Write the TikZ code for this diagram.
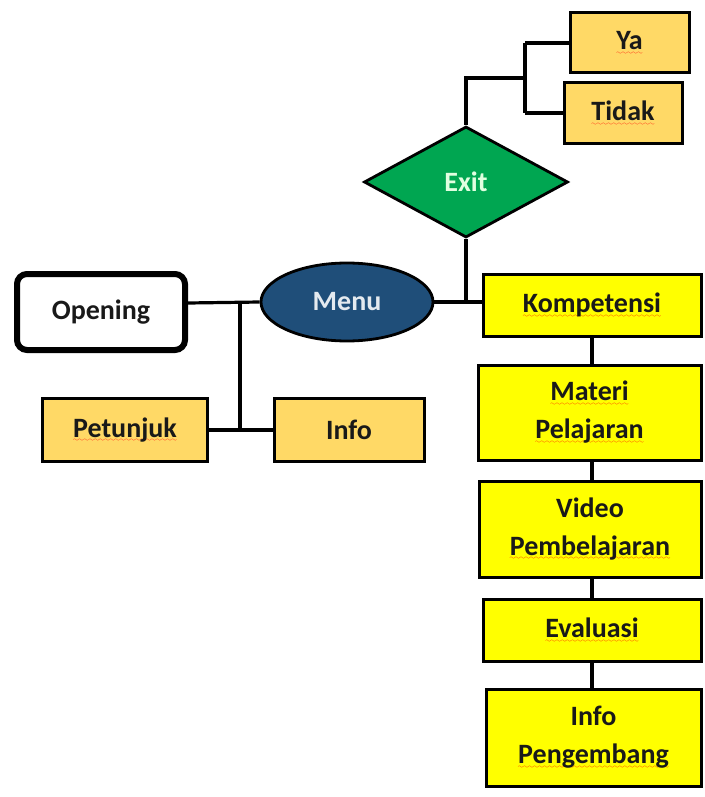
\documentclass[tikz,border=0pt]{standalone}
\usepackage{fontspec}
\setmainfont{Carlito}
\usetikzlibrary{shapes.geometric}

\definecolor{oranye}{RGB}{255,217,102}
\definecolor{kuning}{RGB}{255,255,0}
\definecolor{hijau}{RGB}{0,166,81}
\definecolor{biru}{RGB}{31,78,121}
\definecolor{teks}{RGB}{25,25,25}

\font\gelombang=lasy6
\newcommand{\salah}[1]{\setbox0\hbox{#1}\rlap{\lower4.5pt\hbox to\wd0{\color{red}\xleaders\hbox{\gelombang\char58}\hfill}}\box0}

\begin{document}
\begin{tikzpicture}[x=1pt, y=-1pt,
    every node/.style={font=\fontsize{28}{38}\selectfont\bfseries, text=teks, align=center, inner sep=0pt},
    orangebox/.style={draw, line width=3pt, fill=oranye, minimum height=63pt},
    yellowbox/.style={draw, line width=3pt, fill=kuning},
    garis/.style={line width=3.2pt}]
    \useasboundingbox (0,0) rectangle (704,797);

    %Opening
    \node[draw, line width=6pt, rounded corners=10pt, minimum width=168pt, minimum height=76pt] at (101,312) (opening) {Opening};
    %Menu
    \node[ellipse, draw, line width=2.8pt, fill=biru, text=white!88!biru, minimum width=172pt, minimum height=78pt] at (347,302) (menu) {Menu};
    %Petunjuk
    \node[orangebox, minimum width=165pt] at (125,430) (petunjuk) {\salah{Petunjuk}};
    %Info
    \node[orangebox, minimum width=150pt] at (349,430) (info) {Info};
    %Exit
    \node[diamond, draw, line width=2.8pt, fill=hijau, text=green!12!white, minimum width=204pt, minimum height=111pt] at (466,182) (exit) {Exit};
    %Ya
    \node[orangebox, minimum width=119pt, minimum height=60pt] at (629.5,43) (ya) {\salah{Ya}};
    %Tidak
    \node[orangebox, minimum width=118pt, minimum height=60pt] at (623,113) (tidak) {\salah{Tidak}};
    %Kompetensi
    \node[yellowbox, minimum width=218pt, minimum height=62pt] at (592,305) (kompetensi) {\salah{Kompetensi}};
    %Materi Pelajaran
    \node[yellowbox, minimum width=223pt, minimum height=95pt] at (589.5,412.5) (materi) {\salah{Materi}\\\salah{Pelajaran}};
    %Video Pembelajaran
    \node[yellowbox, minimum width=222pt, minimum height=96pt] at (590,529) (video) {Video\\\salah{Pembelajaran}};
    %Evaluasi
    \node[yellowbox, minimum width=218pt, minimum height=62pt] at (592,630) (evaluasi) {\salah{Evaluasi}};
    %Info Pengembang
    \node[yellowbox, minimum width=215pt, minimum height=97pt] at (593.5,737.5) (pengembang) {Info\\\salah{Pengembang}};

    %titik cabang
    \coordinate (cabangkiri) at (240,303);
    \coordinate (cabangatas) at (525,78);

    %Opening - Menu
    \draw[garis] (opening.east |- cabangkiri) -- (menu.west);
    %cabang ke Petunjuk dan Info
    \draw[garis] (cabangkiri) -- (cabangkiri |- petunjuk.east);
    \draw[garis] (petunjuk.east) -- (info.west);
    %Menu - Kompetensi
    \draw[garis] (menu.east) -- (menu.east -| kompetensi.west);
    %Exit - Menu
    \draw[garis] (exit.south) -- (exit.south |- menu.east);
    %Exit - Ya / Tidak
    \draw[garis] (exit.north) |- (cabangatas);
    \draw[garis] (cabangatas |- ya.west) -- (cabangatas |- tidak.west);
    \draw[garis] (cabangatas |- ya.west) -- (ya.west);
    \draw[garis] (cabangatas |- tidak.west) -- (tidak.west);
    %kolom kanan
    \draw[garis] (kompetensi.south) -- (kompetensi.south |- materi.north);
    \draw[garis] (kompetensi.south |- materi.south) -- (kompetensi.south |- video.north);
    \draw[garis] (kompetensi.south |- video.south) -- (kompetensi.south |- evaluasi.north);
    \draw[garis] (kompetensi.south |- evaluasi.south) -- (kompetensi.south |- pengembang.north);

\end{tikzpicture}
\end{document}
